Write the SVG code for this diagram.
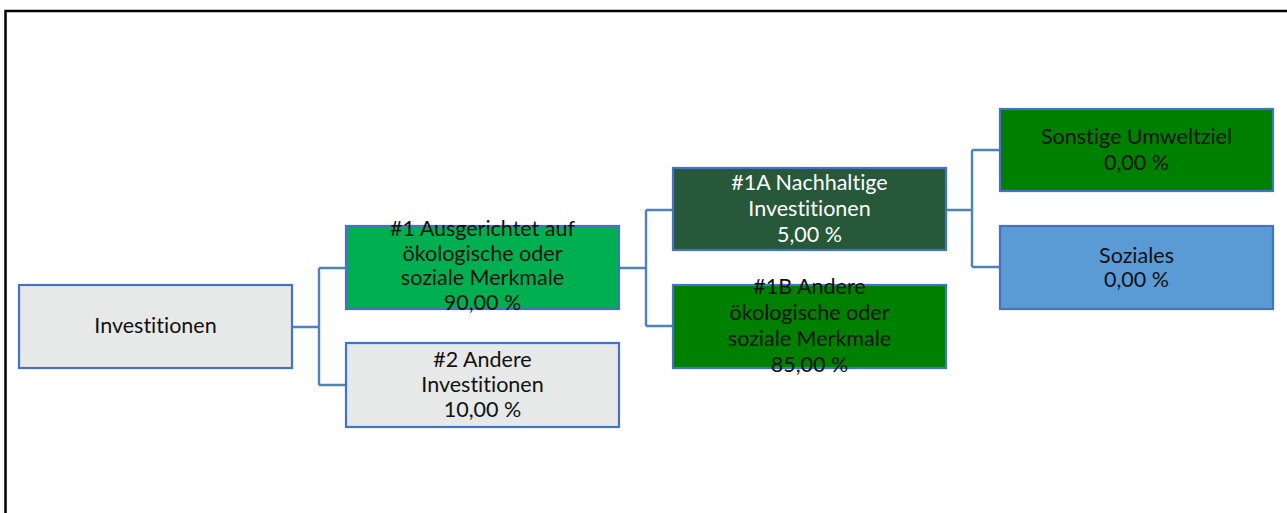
<svg xmlns="http://www.w3.org/2000/svg" width="1287" height="513" viewBox="0 0 1287 513">
  <style>
    .box { stroke: #4472C4; stroke-width: 2.2; }
    .grey { fill: #E7E8E8; }
    .green { fill: #00B050; }
    .dark { fill: #265839; }
    .mid { fill: #008000; }
    .blue { fill: #5B9BD5; }
    .conn { fill: none; stroke: #4F81BD; stroke-width: 2.4; }
    text { font-family: Lato, "Noto Sans", "Liberation Sans", sans-serif; font-size: 21.5px; fill: #111; text-anchor: middle; font-variant-ligatures: none; }
    text.light { fill: #FFFFFF; }
  </style>
  <rect width="1287" height="513" fill="#FFFFFF"/>
  <!-- outer frame -->
  <path d="M5.5,513 V11 H1287" fill="none" stroke="#000" stroke-width="2.5"/>

  <g id="connectors">
    <path class="conn" d="M293,327 H319 M319,268 V385 M319,268 H346 M319,385 H346"/>
    <path class="conn" d="M620,268 H646 M646,210 V326 M646,210 H673 M646,326 H673"/>
    <path class="conn" d="M947,210 H972 M972,150 V267 M972,150 H1000 M972,267 H1000"/>
  </g>

  <g id="investitionen">
    <rect class="box grey" x="19" y="285" width="273" height="83"/>
    <text x="155.5" y="333">Investitionen</text>
  </g>

  <g id="ausgerichtet">
    <rect class="box green" x="346" y="226" width="273" height="83"/>
    <text x="482.5" y="236">#1 Ausgerichtet auf</text>
    <text x="482.5" y="260.5">ökologische oder</text>
    <text x="482.5" y="285">soziale Merkmale</text>
    <text x="482.5" y="309.5">90,00 %</text>
  </g>

  <g id="andere-investitionen">
    <rect class="box grey" x="346" y="343" width="273" height="84"/>
    <text x="482.5" y="367">#2 Andere</text>
    <text x="482.5" y="392">Investitionen</text>
    <text x="482.5" y="417">10,00 %</text>
  </g>

  <g id="nachhaltige">
    <rect class="box dark" x="673" y="168" width="273" height="82"/>
    <text class="light" x="809.5" y="190">#1A Nachhaltige</text>
    <text class="light" x="809.5" y="216">Investitionen</text>
    <text class="light" x="809.5" y="242">5,00 %</text>
  </g>

  <g id="andere-merkmale">
    <rect class="box mid" x="673" y="285" width="273" height="83"/>
    <text x="809.5" y="294">#1B Andere</text>
    <text x="809.5" y="320">ökologische oder</text>
    <text x="809.5" y="346">soziale Merkmale</text>
    <text x="809.5" y="372">85,00 %</text>
  </g>

  <g id="umweltziel">
    <rect class="box mid" x="1000" y="109" width="273" height="82"/>
    <text x="1136.5" y="144">Sonstige Umweltziel</text>
    <text x="1136.5" y="170">0,00 %</text>
  </g>

  <g id="soziales">
    <rect class="box blue" x="1000" y="226" width="273" height="83"/>
    <text x="1136.5" y="263">Soziales</text>
    <text x="1136.5" y="287">0,00 %</text>
  </g>
</svg>
